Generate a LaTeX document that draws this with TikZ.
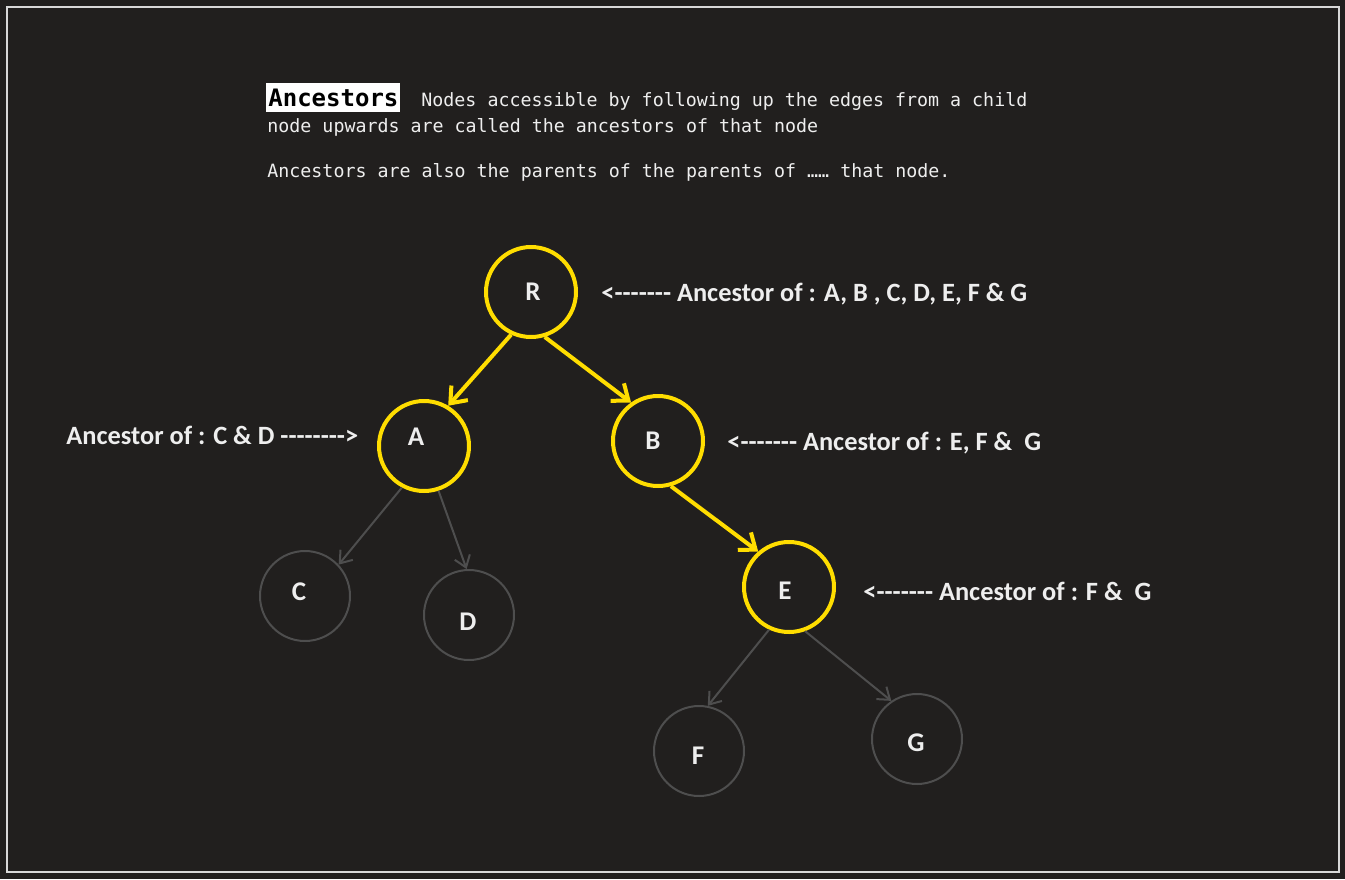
\documentclass[tikz,border=0pt]{standalone}
\usepackage{fontspec}
\setmainfont{Carlito}[Ligatures=TeXOff]
\newfontfamily\codefont{DejaVu Sans Mono}
\usepackage{xcolor}
\usetikzlibrary{arrows.meta}

\definecolor{bgdark}{RGB}{33,31,30}
\definecolor{nodeyellow}{RGB}{255,221,0}
\definecolor{nodegray}{RGB}{78,78,78}
\definecolor{framegray}{RGB}{216,216,216}
\definecolor{txtwhite}{RGB}{238,238,238}

\tikzset{
    ynode/.style={circle, draw=nodeyellow, line width=2pt, minimum size=45pt, inner sep=0pt},
    gnode/.style={circle, draw=nodegray, line width=1pt, minimum size=45pt, inner sep=0pt},
    letter/.style={text=txtwhite, font=\bfseries\fontsize{13.5}{16}\selectfont, inner sep=0pt},
    ancestor/.style={text=txtwhite, font=\bfseries\fontsize{13.2}{16}\selectfont, inner sep=0pt, anchor=base west},
    codeline/.style={text=txtwhite, font=\codefont\fontsize{9.15}{11}\selectfont, inner sep=0pt, anchor=base west},
    yarrow/.style={draw=nodeyellow, line width=2pt, -{Straight Barb[length=7pt,width=11pt]}},
    garrow/.style={draw=nodegray, line width=1pt, -{Straight Barb[length=5.5pt,width=8pt]}}
}

\begin{document}
\begin{tikzpicture}[x=0.5pt, y=-0.5pt]

    % Background and frame (pixel coordinates, y downwards)
    \useasboundingbox[fill=bgdark] (0,0) rectangle (1345,879);
    \draw[framegray, line width=1pt] (7,7) rectangle (1339,872);

    % Heading text
    \node[anchor=base west, fill=white, text=black, font=\codefont\bfseries\fontsize{12}{14}\selectfont,
          inner xsep=1pt, inner ysep=0pt, text height=11.5pt, text depth=3pt] (title) at (266,106) {Ancestors};
    \node[codeline] (line1) at (421,106) {Nodes accessible by following up the edges from a child};
    \node[codeline] (line2) at (267,132) {node upwards are called the ancestors of that node};
    \node[codeline] (line3) at (267,177) {Ancestors are also the parents of the parents of …… that node.};

    % Yellow nodes: the ancestors
    \foreach \n/\x/\y in {R/531/292, A/424/446, B/658/441, E/789/587} {
        \node[ynode] (\n) at (\x,\y) {};
    }
    % Gray nodes: the rest of the tree
    \foreach \n/\x/\y in {C/305/596, D/469/615, F/699/751, G/917/739} {
        \node[gnode] (\n) at (\x,\y) {};
    }

    % Letters inside the circles
    \foreach \n/\x/\y in {R/533/292, A/416/437, B/653/441, E/785/591, C/299/592, D/468/622, F/698/756, G/916/743} {
        \node[letter] (t\n) at (\x,\y) {\n};
    }

    % Edges
    \draw[yarrow] (R.-115) -- (A.59);
    \draw[yarrow] (R.-73) -- (B.125);
    \draw[yarrow] (B.-74) -- (E.131);
    \draw[garrow] (A.-118) -- (C.43);
    \draw[garrow] (A.-72) -- (D.93);
    \draw[garrow] (E.-115) -- (F.79);
    \draw[garrow] (E.-70) -- (G.124);

    % Ancestor labels
    \node[ancestor] (labR) at (601,301) {<------- Ancestor of : A, B , C, D, E, F \& G};
    \node[ancestor] (labA) at (66,444) {Ancestor of : C \& D -------->};
    \node[ancestor] (labB) at (727,450) {<------- Ancestor of : E, F \& \ G};
    \node[ancestor] (labE) at (863,600) {<------- Ancestor of : F \& \ G};

\end{tikzpicture}
\end{document}
